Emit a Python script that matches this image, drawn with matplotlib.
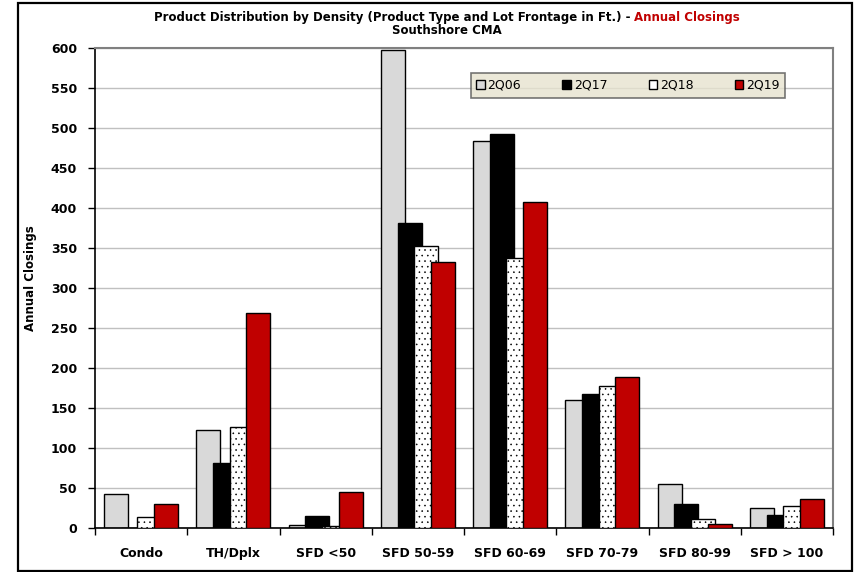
import matplotlib.pyplot as plt
import numpy as np
from matplotlib.patches import Rectangle, Patch

categories = ['Condo', 'TH/Dplx', 'SFD <50', 'SFD 50-59', 'SFD 60-69',
              'SFD 70-79', 'SFD 80-99', 'SFD > 100']
series = ['2Q06', '2Q17', '2Q18', '2Q19']
q06 = [43, 123, 4, 598, 484, 160, 55, 25]
q17 = [0, 81, 15, 381, 492, 167, 30, 16]
q18 = [14, 126, 3, 353, 338, 177, 11, 27]
q19 = [30, 269, 45, 333, 407, 189, 5, 36]

colors = ['#d9d9d9', '#000000', '#ffffff', '#c00000']
hatches = [None, None, '...', None]

plt.rcParams['font.family'] = 'DejaVu Sans'
plt.rcParams['hatch.linewidth'] = 0.4

W, H = 856, 572
fig = plt.figure(figsize=(W / 100, H / 100), dpi=100)

# outer frame around the whole chart
fig.patches.append(Rectangle((18 / W, 1 - 571 / H), (852 - 18) / W, (571 - 3) / H,
                             transform=fig.transFigure, fill=False,
                             edgecolor='black', linewidth=1.6))

ax = fig.add_axes([95 / W, 1 - 528 / H, (833 - 95) / W, (528 - 48) / H])

x = np.arange(len(categories))
step = 0.18
width = 0.26
for i, (name, vals) in enumerate(zip(series, [q06, q17, q18, q19])):
    ax.bar(x + (i - 1.5) * step, vals, width, color=colors[i],
           edgecolor='black', linewidth=1.0, hatch=hatches[i], label=name,
           zorder=2 + i)

ax.set_xlim(-0.5, len(categories) - 0.5)
ax.set_ylim(0, 600)
ax.set_yticks(range(0, 601, 50))
ax.yaxis.grid(True, color='#c0c0c0', linewidth=1.0, zorder=0)
ax.set_axisbelow(True)

ax.set_xticks(x)
ax.set_xticklabels(categories, fontsize=9, fontweight='bold')
ax.set_xticks(np.arange(len(categories) + 1) - 0.5, minor=True)
ax.tick_params(axis='x', which='major', length=0, pad=14)
ax.tick_params(axis='x', which='minor', length=5, direction='out', width=1)
ax.tick_params(axis='y', length=5, direction='out', width=1, labelsize=9, pad=8)
for lbl in ax.get_yticklabels():
    lbl.set_fontweight('bold')

for side in ['left', 'bottom']:
    ax.spines[side].set_color('black')
    ax.spines[side].set_linewidth(1.2)
for side in ['top', 'right']:
    ax.spines[side].set_color('#808080')
    ax.spines[side].set_linewidth(1.5)

ax.set_ylabel('Annual Closings', fontsize=8.5, fontweight='bold')
ax.yaxis.set_label_coords((37 - 95) / (833 - 95), 0.52)

handles = [Patch(facecolor=colors[i], edgecolor='black', label=s)
           for i, s in enumerate(series)]
leg = ax.legend(handles=handles, loc='center', bbox_to_anchor=(0.722, 0.922),
                ncol=4, fontsize=9, frameon=True, fancybox=False, shadow=False,
                handlelength=0.7, handleheight=0.7, handletextpad=0.2,
                columnspacing=3.3, borderpad=0.45)
leg.get_frame().set_facecolor('#e6e3cf')
leg.get_frame().set_edgecolor('#555555')
leg.get_frame().set_linewidth(1.2)
leg.set_zorder(10)

# two-colour title
fig.canvas.draw()
r = fig.canvas.get_renderer()
part1 = 'Product Distribution by Density (Product Type and Lot Frontage in Ft.) - '
part2 = 'Annual Closings'
t1 = fig.text(0, 1 - 17 / H, part1, fontsize=8.5, fontweight='bold', va='center')
t2 = fig.text(0, 1 - 17 / H, part2, fontsize=8.5, fontweight='bold', va='center',
              color='#c00000')
w1 = t1.get_window_extent(r).width
w2 = t2.get_window_extent(r).width
start = 447 - (w1 + w2) / 2
t1.set_x(start / W)
t2.set_x((start + w1) / W)
fig.text(447 / W, 1 - 31 / H, 'Southshore CMA', fontsize=8.5, fontweight='bold',
         ha='center', va='center')

fig.savefig('out.png', dpi=100)
